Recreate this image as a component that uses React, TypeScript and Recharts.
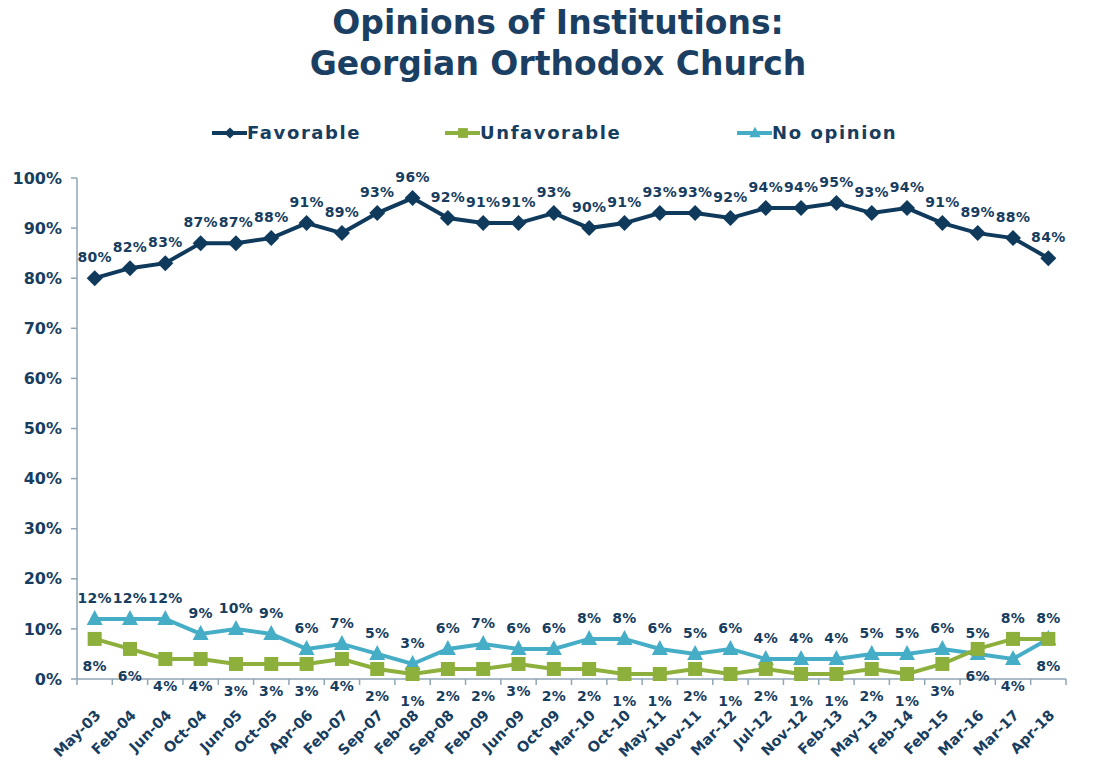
import React from "react";
import { LineChart, Line, XAxis, YAxis, LabelList } from "recharts";

const categories = [
  "May-03", "Feb-04", "Jun-04", "Oct-04", "Jun-05", "Oct-05", "Apr-06",
  "Feb-07", "Sep-07", "Feb-08", "Sep-08", "Feb-09", "Jun-09", "Oct-09",
  "Mar-10", "Oct-10", "May-11", "Nov-11", "Mar-12", "Jul-12", "Nov-12",
  "Feb-13", "May-13", "Feb-14", "Feb-15", "Mar-16", "Mar-17", "Apr-18",
];
const favorable = [80, 82, 83, 87, 87, 88, 91, 89, 93, 96, 92, 91, 91, 93, 90, 91, 93, 93, 92, 94, 94, 95, 93, 94, 91, 89, 88, 84];
const unfavorable = [8, 6, 4, 4, 3, 3, 3, 4, 2, 1, 2, 2, 3, 2, 2, 1, 1, 2, 1, 2, 1, 1, 2, 1, 3, 6, 8, 8];
const noOpinion = [12, 12, 12, 9, 10, 9, 6, 7, 5, 3, 6, 7, 6, 6, 8, 8, 6, 5, 6, 4, 4, 4, 5, 5, 6, 5, 4, 8];
const yTicks = [0, 10, 20, 30, 40, 50, 60, 70, 80, 90, 100];

const NAVY = "#0f3a5c";
const GREEN = "#8db03c";
const TEAL = "#46adc7";
const TEXT = "#173d5f";
const AXIS = "#8fa5b5";
const FONT = "'DejaVu Sans', Verdana, sans-serif";

const data = categories.map((period, i) => ({
  period,
  favorable: favorable[i],
  unfavorable: unfavorable[i],
  noOpinion: noOpinion[i],
}));

const STEP = 35.33;

function Diamond({ cx, cy }: any) {
  return (
    <path
      d={`M${cx},${cy - 8} L${cx + 8},${cy} L${cx},${cy + 8} L${cx - 8},${cy} Z`}
      fill={NAVY}
    />
  );
}

function Square({ cx, cy }: any) {
  return <rect x={cx - 7} y={cy - 7} width={14} height={14} fill={GREEN} />;
}

function Triangle({ cx, cy }: any) {
  return (
    <path
      d={`M${cx},${cy - 9} L${cx + 8},${cy + 6} L${cx - 8},${cy + 6} Z`}
      fill={TEAL}
    />
  );
}

const labelStyle = {
  fill: TEXT,
  fontSize: 14,
  fontWeight: 700,
  fontFamily: FONT,
  letterSpacing: 0.3,
};

// unfavourable labels sit below the line unless the series clearly crosses above "no opinion"
const unfavAbove = (i: number) => unfavorable[i] > noOpinion[i] + 1;

function FavLabel({ x, y, value }: any) {
  return (
    <text x={x} y={y - 16} textAnchor="middle" style={labelStyle}>
      {value}%
    </text>
  );
}

function UnfavLabel({ x, y, value, index }: any) {
  const above = unfavAbove(index);
  return (
    <text x={x} y={above ? y - 16 : y + 32} textAnchor="middle" style={labelStyle}>
      {value}%
    </text>
  );
}

function NoOpLabel({ x, y, value, index }: any) {
  const below = unfavAbove(index);
  return (
    <text x={x} y={below ? y + 32 : y - 16} textAnchor="middle" style={labelStyle}>
      {value}%
    </text>
  );
}

function XTick({ x, y, payload, index }: any) {
  const last = index === categories.length - 1;
  const ax = x + 7;
  const ay = y + 37;
  return (
    <g>
      <line x1={x - STEP / 2} x2={x - STEP / 2} y1={y} y2={y + 6} stroke={AXIS} strokeWidth={1.5} />
      {last && (
        <line x1={x + STEP / 2} x2={x + STEP / 2} y1={y} y2={y + 6} stroke={AXIS} strokeWidth={1.5} />
      )}
      <text
        x={ax}
        y={ay}
        transform={`rotate(-45, ${ax}, ${ay})`}
        textAnchor="end"
        style={{ fill: TEXT, fontSize: 14.5, fontWeight: 700, fontFamily: FONT }}
      >
        {payload.value}
      </text>
    </g>
  );
}

const legendItems = [
  { name: "Favorable", color: NAVY, Marker: Diamond, left: 212 },
  { name: "Unfavorable", color: GREEN, Marker: Square, left: 445 },
  { name: "No opinion", color: TEAL, Marker: Triangle, left: 737 },
];

function ChartLegend() {
  return (
    <>
      {legendItems.map(({ name, color, Marker, left }) => (
        <div
          key={name}
          style={{ position: "absolute", top: 122, left, display: "flex", alignItems: "center" }}
        >
          <svg width={35} height={16}>
            <line x1={0} x2={35} y1={8} y2={8} stroke={color} strokeWidth={4} />
            <g transform="translate(18,8) scale(0.7)">
              <Marker cx={0} cy={0} />
            </g>
          </svg>
          <span
            style={{
              color: TEXT,
              fontSize: 18,
              fontWeight: 700,
              fontFamily: FONT,
              letterSpacing: 1.6,
            }}
          >
            {name}
          </span>
        </div>
      ))}
    </>
  );
}

export default function App() {
  return (
    <div style={{ position: "absolute", left: 0, top: 0, width: 1099, height: 762, background: "#fff" }}>
      <div
        style={{
          position: "absolute",
          top: 2,
          left: 0,
          width: 1116,
          textAlign: "center",
          color: "#1b3f63",
          fontFamily: FONT,
          fontWeight: 700,
          fontSize: 33,
          lineHeight: "41px",
        }}
      >
        Opinions of Institutions:
        <br />
        Georgian Orthodox Church
      </div>
      <ChartLegend />
      <LineChart
        width={1099}
        height={762}
        data={data}
        margin={{ top: 178, right: 33, bottom: 8, left: 7 }}
        style={{ overflow: "visible" }}
      >
        <XAxis
          dataKey="period"
          interval={0}
          padding={{ left: STEP / 2, right: STEP / 2 }}
          axisLine={{ stroke: AXIS, strokeWidth: 1.5 }}
          tickLine={false}
          tickSize={0}
          tickMargin={0}
          height={75}
          tick={<XTick />}
        />
        <YAxis
          domain={[0, 100]}
          ticks={yTicks}
          interval={0}
          width={70}
          axisLine={{ stroke: AXIS, strokeWidth: 1.5 }}
          tickLine={{ stroke: AXIS, strokeWidth: 1.5 }}
          tickSize={6}
          tickMargin={9}
          tickFormatter={(v) => `${v}%`}
          tick={{ fill: TEXT, fontSize: 16, fontWeight: 700, fontFamily: FONT }}
        />
        <Line
          dataKey="noOpinion"
          stroke={TEAL}
          strokeWidth={4}
          isAnimationActive={false}
          dot={(p: any) => <Triangle key={`t${p.index}`} cx={p.cx} cy={p.cy} />}
        >
          <LabelList dataKey="noOpinion" content={<NoOpLabel />} />
        </Line>
        <Line
          dataKey="unfavorable"
          stroke={GREEN}
          strokeWidth={4}
          isAnimationActive={false}
          dot={(p: any) => <Square key={`s${p.index}`} cx={p.cx} cy={p.cy} />}
        >
          <LabelList dataKey="unfavorable" content={<UnfavLabel />} />
        </Line>
        <Line
          dataKey="favorable"
          stroke={NAVY}
          strokeWidth={4}
          isAnimationActive={false}
          dot={(p: any) => <Diamond key={`d${p.index}`} cx={p.cx} cy={p.cy} />}
        >
          <LabelList dataKey="favorable" content={<FavLabel />} />
        </Line>
      </LineChart>
    </div>
  );
}
